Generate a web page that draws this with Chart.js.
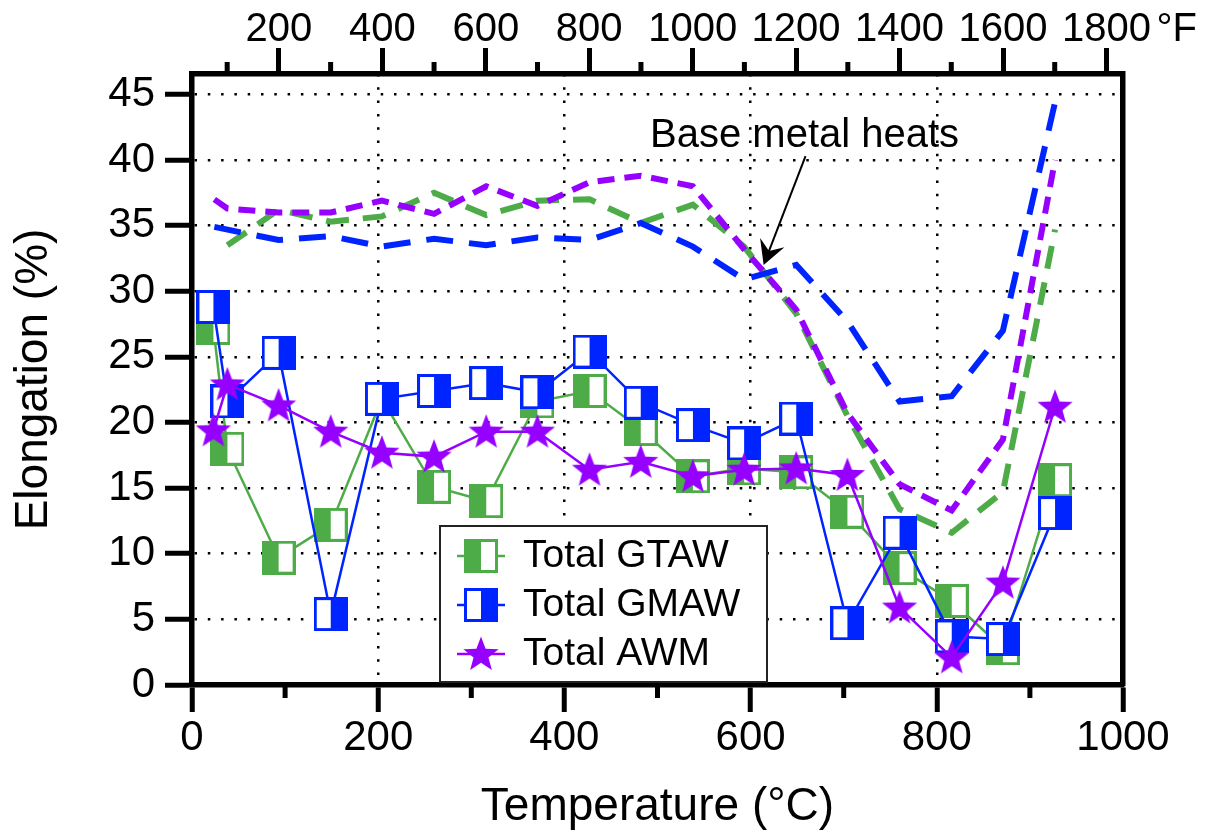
<!DOCTYPE html>
<html>
<head>
<meta charset="utf-8">
<title>Elongation vs temperature</title>
<script src="https://cdn.jsdelivr.net/npm/chart.js@4.4.1/dist/chart.umd.min.js"></script>
<style>
  html, body { margin: 0; padding: 0; background: #fff; }
  #wrap { width: 1205px; height: 835px; }
</style>
</head>
<body>
<div id="wrap"><canvas id="chart" width="1205" height="835"></canvas></div>
<script>
// test temperatures (°C) of the weld samples
const testTemps = [23, 38, 93, 149, 204, 260, 316, 371, 427, 482, 538, 593, 649, 704, 760, 816, 871, 927];

// total elongation (%) of the welds
const gtawTotal = [27.2, 18.0, 9.7, 12.2, 21.8, 15.1, 14.0, 21.6, 22.4, 19.5, 15.9, 16.5, 16.2, 13.2, 8.9, 6.4, 2.8, 15.6];
const gmawTotal = [28.8, 21.6, 25.3, 5.4, 21.8, 22.4, 23.0, 22.3, 25.4, 21.5, 19.8, 18.4, 20.3, 4.7, 11.6, 3.7, 3.5, 13.1];
const awmTotal  = [19.4, 22.9, 21.3, 19.3, 17.7, 17.4, 19.3, 19.3, 16.4, 17.0, 15.9, 16.4, 16.5, 16.0, 5.9, 2.1, 7.8, 21.2];

// base metal heats (dashed curves)
const gtawBaseTemps = [38, 93, 149, 204, 260, 316, 371, 427, 482, 538, 593, 649, 704, 760, 816, 871, 927];
const gtawBase      = [33.5, 36.2, 35.3, 35.7, 37.5, 35.8, 36.9, 37.0, 35.2, 36.6, 33.4, 28.3, 20.5, 13.4, 11.6, 14.7, 34.7];
const gmawBaseTemps = [24, 93, 149, 204, 260, 316, 371, 427, 482, 538, 593, 649, 704, 760, 816, 871, 927];
const gmawBase      = [34.9, 33.9, 34.2, 33.4, 34.0, 33.5, 34.1, 33.9, 35.2, 33.4, 30.9, 32.0, 27.7, 21.6, 22.0, 27.0, 44.4];
const awmBaseTemps  = [24, 38, 93, 149, 204, 260, 316, 371, 427, 482, 538, 593, 649, 704, 760, 816, 871, 927];
const awmBase       = [37.0, 36.3, 36.0, 36.0, 36.9, 35.9, 38.0, 36.5, 38.3, 38.8, 38.0, 33.2, 28.6, 20.7, 15.3, 13.3, 18.7, 40.0];

// axis ticks
const xTickValues = [0, 100, 200, 300, 400, 500, 600, 700, 800, 900, 1000];
const yTickValues = [0, 5, 10, 15, 20, 25, 30, 35, 40, 45];
const fTickValues = [100, 200, 300, 400, 500, 600, 700, 800, 900, 1000, 1100, 1200, 1300, 1400, 1500, 1600, 1700, 1800];

// annotation
const noteText = 'Base metal heats';
const noteAt = { x: 492, y: 41.0 };
const arrowFrom = { x: 659, y: 40.3 };
const arrowTo = { x: 614, y: 32.0 };

const FONT = '"Liberation Sans", Arial, Helvetica, sans-serif';
const GREEN = 'rgb(78, 172, 72)';
const BLUE = 'rgb(0, 36, 255)';
const PURPLE = 'rgb(150, 0, 255)';
const CLEAR = 'rgba(0,0,0,0)';

Chart.defaults.font.family = FONT;
Chart.defaults.color = '#000';

// marker: square with one half filled
function halfSquare(color, side) {
  const c = document.createElement('canvas');
  c.width = 34; c.height = 34;
  const g = c.getContext('2d');
  g.fillStyle = '#fff';
  g.fillRect(1.5, 1.5, 31, 31);
  g.fillStyle = color;
  if (side === 'left') g.fillRect(1.5, 1.5, 15.5, 31);
  else g.fillRect(17, 1.5, 15.5, 31);
  g.strokeStyle = color;
  g.lineWidth = 3;
  g.strokeRect(1.5, 1.5, 31, 31);
  return c;
}

// marker: filled five point star
function starMarker(color) {
  const c = document.createElement('canvas');
  c.width = 40; c.height = 40;
  const g = c.getContext('2d');
  g.fillStyle = color;
  g.beginPath();
  for (let i = 0; i < 10; i++) {
    const r = i % 2 ? 7.8 : 18.5;
    const a = -Math.PI / 2 + i * Math.PI / 5;
    g.lineTo(20 + r * Math.cos(a), 21 + r * Math.sin(a));
  }
  g.closePath();
  g.fill();
  return c;
}

const pts = (xs, ys) => xs.map((x, i) => ({ x: x, y: ys[i] }));

const markerSet = (label, temps, values, color, img, order, rank) => ({
  label: label,
  data: pts(temps, values),
  borderColor: color,
  backgroundColor: color,
  borderWidth: 2.5,
  pointStyle: img,
  pointRadius: 16,
  tension: 0,
  order: order,
  inLegend: true,
  legendRank: rank,
  xAxisID: 'x',
  yAxisID: 'y'
});

const baseSet = (label, temps, values, color, dash, order) => ({
  label: label,
  data: pts(temps, values),
  borderColor: color,
  borderWidth: 6,
  borderDash: dash,
  pointRadius: 0,
  tension: 0,
  order: order,
  xAxisID: 'x',
  yAxisID: 'y'
});

// short ticks between the labelled ones
const minorTicks = {
  id: 'minorTicks',
  afterDraw(chart) {
    const { ctx } = chart;
    const x = chart.scales.x, f = chart.scales.xF;
    ctx.save();
    ctx.strokeStyle = '#000';
    ctx.lineWidth = 5;
    xTickValues.filter(v => v % 200 !== 0).forEach(v => {
      const p = x.getPixelForValue(v);
      ctx.beginPath(); ctx.moveTo(p, x.top); ctx.lineTo(p, x.top + 13); ctx.stroke();
    });
    fTickValues.filter(v => v % 200 !== 0).forEach(v => {
      const p = f.getPixelForValue(v);
      ctx.beginPath(); ctx.moveTo(p, f.bottom); ctx.lineTo(p, f.bottom - 12); ctx.stroke();
    });
    // unit after the last fahrenheit label
    ctx.fillStyle = '#000';
    ctx.font = '40px ' + FONT;
    ctx.textAlign = 'left';
    ctx.textBaseline = 'middle';
    ctx.fillText('°F', f.getPixelForValue(1800) + 50, f.bottom - 26 + 6 - 24);
    ctx.restore();
  }
};

// legend box inside the plot, with line + marker samples
const boxLegend = {
  id: 'boxLegend',
  afterDatasetsDraw(chart) {
    const { ctx, chartArea } = chart;
    const left = chartArea.left + 248, width = 327;
    const top = chartArea.bottom - 159, bottom = chartArea.bottom - 3;
    ctx.save();
    ctx.fillStyle = '#fff';
    ctx.fillRect(left, top, width, bottom - top);
    ctx.strokeStyle = '#222';
    ctx.lineWidth = 2;
    ctx.strokeRect(left, top, width, bottom - top);
    const items = chart.data.datasets.filter(d => d.inLegend).sort((a, b) => a.legendRank - b.legendRank);
    items.forEach((d, i) => {
      const cy = top + 30 + i * 49;
      ctx.strokeStyle = d.borderColor;
      ctx.lineWidth = d.borderWidth;
      ctx.beginPath(); ctx.moveTo(left + 17, cy); ctx.lineTo(left + 65, cy); ctx.stroke();
      const img = d.pointStyle;
      ctx.drawImage(img, left + 41 - img.width / 2, cy - img.height / 2);
      ctx.fillStyle = '#000';
      ctx.font = '39px ' + FONT;
      ctx.textAlign = 'left';
      ctx.textBaseline = 'middle';
      ctx.fillText(d.label, left + 83, cy);
    });
    ctx.restore();
  }
};

// "Base metal heats" label and arrow
const noteArrow = {
  id: 'noteArrow',
  afterDatasetsDraw(chart) {
    const { ctx } = chart;
    const x = chart.scales.x, y = chart.scales.y;
    ctx.save();
    ctx.fillStyle = '#000';
    ctx.font = '40px ' + FONT;
    ctx.textAlign = 'left';
    ctx.textBaseline = 'alphabetic';
    ctx.fillText(noteText, x.getPixelForValue(noteAt.x), y.getPixelForValue(noteAt.y));

    const x0 = x.getPixelForValue(arrowFrom.x), y0 = y.getPixelForValue(arrowFrom.y);
    const x1 = x.getPixelForValue(arrowTo.x), y1 = y.getPixelForValue(arrowTo.y);
    const len = Math.hypot(x1 - x0, y1 - y0);
    const ux = (x1 - x0) / len, uy = (y1 - y0) / len;
    const px = -uy, py = ux;
    ctx.strokeStyle = '#000';
    ctx.lineWidth = 2;
    ctx.beginPath(); ctx.moveTo(x0, y0); ctx.lineTo(x1 - ux * 14, y1 - uy * 14); ctx.stroke();
    ctx.beginPath();
    ctx.moveTo(x1, y1);
    ctx.lineTo(x1 - ux * 24 + px * 13, y1 - uy * 24 + py * 13);
    ctx.lineTo(x1 - ux * 15, y1 - uy * 15);
    ctx.lineTo(x1 - ux * 24 - px * 13, y1 - uy * 24 - py * 13);
    ctx.closePath();
    ctx.fill();
    ctx.restore();
  }
};

const gridDash = [2.5, 10.8];

new Chart(document.getElementById('chart'), {
  type: 'line',
  data: {
    datasets: [
      markerSet('Total AWM', testTemps, awmTotal, PURPLE, starMarker(PURPLE), 1, 3),
      markerSet('Total GMAW', testTemps, gmawTotal, BLUE, halfSquare(BLUE, 'right'), 2, 2),
      markerSet('Total GTAW', testTemps, gtawTotal, GREEN, halfSquare(GREEN, 'left'), 3, 1),
      baseSet('AWM base metal', awmBaseTemps, awmBase, PURPLE, [17, 10], 4),
      baseSet('GMAW base metal', gmawBaseTemps, gmawBase, BLUE, [27, 16], 5),
      baseSet('GTAW base metal', gtawBaseTemps, gtawBase, GREEN, [23, 14], 6)
    ]
  },
  options: {
    responsive: false,
    animation: false,
    devicePixelRatio: 1,
    layout: { padding: 0 },
    plugins: {
      legend: { display: false },
      tooltip: { enabled: false }
    },
    scales: {
      x: {
        type: 'linear',
        position: 'bottom',
        min: 0,
        max: 1000,
        afterBuildTicks: s => { s.ticks = xTickValues.map(v => ({ value: v })); },
        afterFit: s => { s.height = 150; },
        ticks: {
          autoSkip: false,
          maxRotation: 0,
          padding: 1,
          font: { size: 42 },
          callback: v => (v % 200 === 0 ? String(v) : '')
        },
        grid: {
          color: c => (c.tick && c.tick.value % 200 === 0 && c.tick.value > 0 && c.tick.value < 1000 ? '#000' : CLEAR),
          lineWidth: 2.5,
          tickLength: 27,
          tickWidth: 5,
          tickBorderDash: [],
          tickColor: c => (c.tick && c.tick.value % 200 === 0 ? '#000' : CLEAR)
        },
        border: { display: true, color: '#000', width: 5.5, dash: gridDash },
        title: { display: true, text: 'Temperature (°C)', font: { size: 46 }, padding: { top: 0, bottom: 0 } }
      },
      xF: {
        type: 'linear',
        position: 'top',
        min: 32,
        max: 1832,
        afterBuildTicks: s => { s.ticks = fTickValues.map(v => ({ value: v })); },
        afterFit: s => { s.height = 74; },
        ticks: {
          autoSkip: false,
          maxRotation: 0,
          padding: -6,
          font: { size: 40 },
          callback: v => (v % 200 === 0 ? String(v) : '')
        },
        grid: {
          drawOnChartArea: false,
          tickLength: 26,
          tickWidth: 5,
          tickBorderDash: [],
          tickColor: c => (c.tick && c.tick.value % 200 === 0 ? '#000' : CLEAR)
        },
        border: { display: true, color: '#000', width: 5.5 }
      },
      y: {
        type: 'linear',
        position: 'left',
        min: 0,
        max: 46.55,
        afterBuildTicks: s => { s.ticks = yTickValues.map(v => ({ value: v })); },
        afterFit: s => { s.width = 192; },
        ticks: { padding: 10, font: { size: 42 }, callback: v => String(v) },
        grid: {
          color: c => (c.tick && c.tick.value > 0 ? '#000' : CLEAR),
          lineWidth: 2.5,
          tickLength: 27,
          tickWidth: 5,
          tickBorderDash: [],
          tickColor: '#000'
        },
        border: { display: true, color: '#000', width: 5.5, dash: gridDash },
        title: { display: true, text: 'Elongation (%)', font: { size: 46 }, padding: { top: 7, bottom: 0 } }
      },
      y2: {
        type: 'linear',
        position: 'right',
        min: 0,
        max: 46.55,
        afterFit: s => { s.width = 82; },
        ticks: { display: false },
        grid: { drawOnChartArea: false, drawTicks: false },
        border: { display: true, color: '#000', width: 5.5 }
      }
    }
  },
  plugins: [boxLegend, noteArrow, minorTicks]
});
</script>
</body>
</html>
